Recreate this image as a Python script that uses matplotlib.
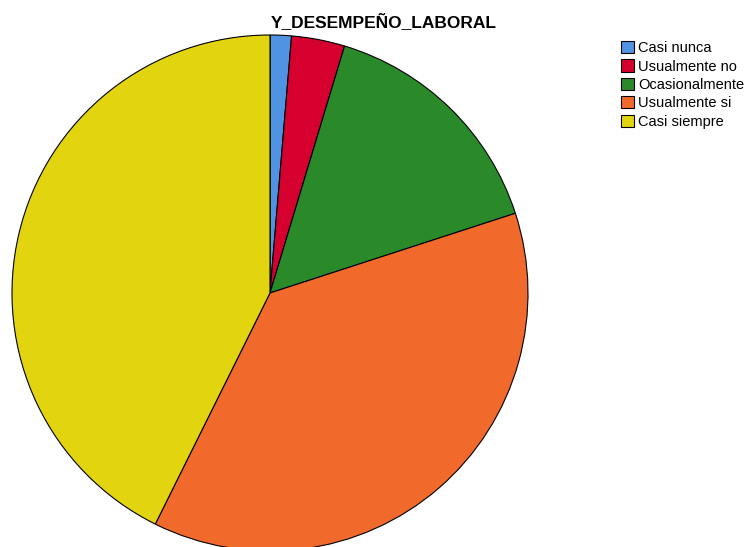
import matplotlib.pyplot as plt

plt.rcParams['font.family'] = ['Liberation Sans', 'DejaVu Sans']

# data (counts, n=150)
categorias = ['Casi nunca', 'Usualmente no', 'Ocasionalmente', 'Usualmente si', 'Casi siempre']
frecuencias = [2, 5, 23, 56, 64]
colores = ['#4f93e2', '#d6002f', '#2a8a2a', '#f26a2b', '#e2d510']

fig = plt.figure(figsize=(7.45, 5.47), dpi=100)
ax = fig.add_axes([0, 0, 1, 1])

wedges, _ = ax.pie(frecuencias, colors=colores, startangle=90, counterclock=False,
                   center=(270, 547 - 293), radius=258,
                   wedgeprops=dict(edgecolor='black', linewidth=0.8))
ax.set_xlim(0, 745)
ax.set_ylim(0, 547)
ax.set_aspect('equal')
ax.axis('off')

fig.text(384 / 745, 1 - 22 / 547, 'Y_DESEMPEÑO_LABORAL', ha='center', va='center',
         fontsize=12.5, fontweight='bold')

leg = ax.legend(wedges, categorias, loc='upper left', bbox_to_anchor=(621 / 745, 1 - 41 / 547),
                bbox_transform=fig.transFigure, frameon=False, fontsize=10.5,
                handlelength=0.9, handleheight=0.9, handletextpad=0.3,
                labelspacing=0.3, borderpad=0, borderaxespad=0)

fig.savefig('out.png', dpi=100)
